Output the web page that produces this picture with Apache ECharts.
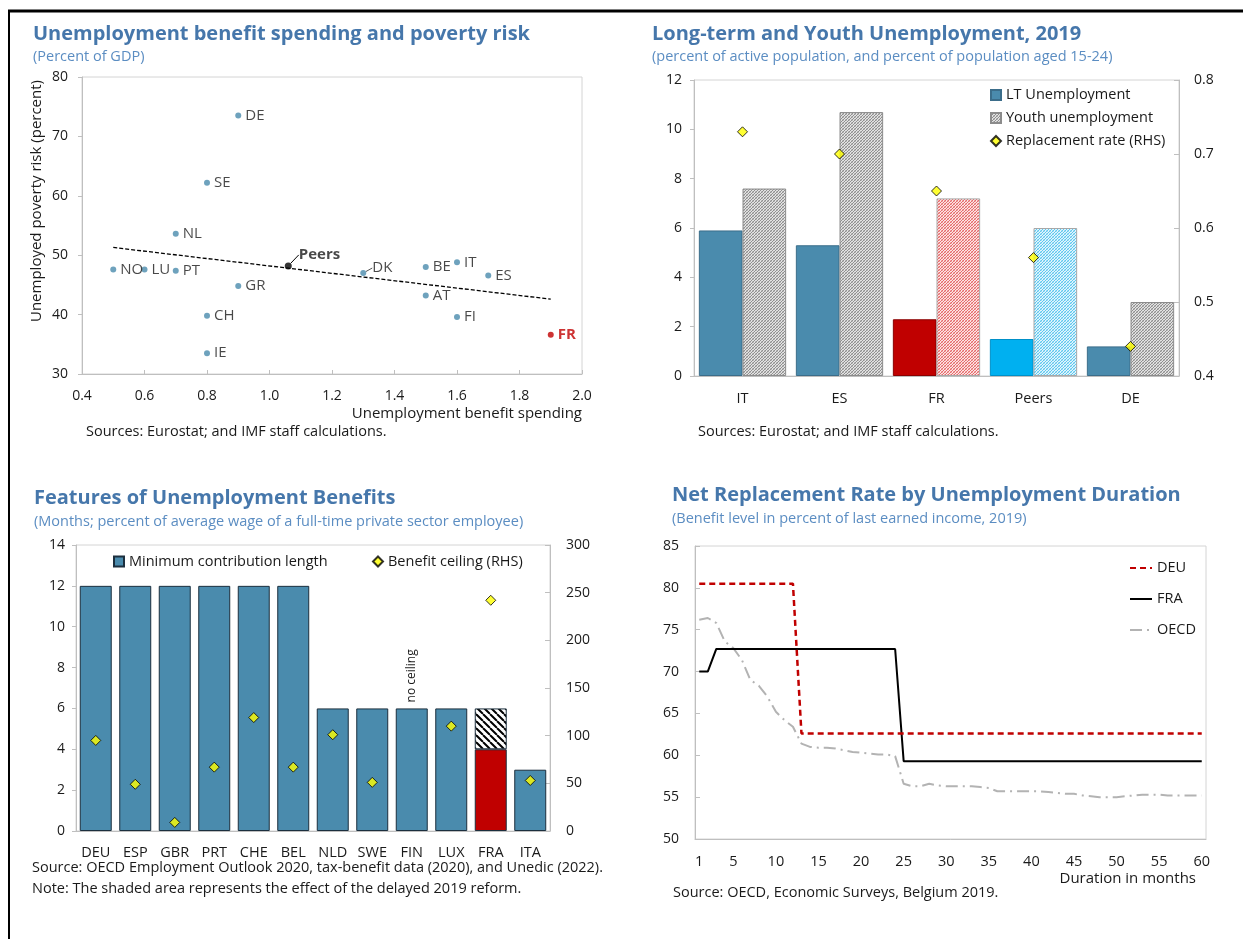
<!DOCTYPE html>
<html>
<head>
<meta charset="utf-8">
<title>Unemployment benefits</title>
<script src="https://cdn.jsdelivr.net/npm/echarts@6/dist/echarts.min.js"></script>
<style>
  html, body { margin: 0; padding: 0; background: #fff; }
  #chart { width: 1243px; height: 939px; }
</style>
</head>
<body>
<div id="chart"></div>
<script>
const FONT = "'Open Sans', 'Noto Sans', sans-serif"
const TITLE_COLOR = '#4677ab'
const SUB_COLOR = '#5b8dc2'
const INK = '#1a1a1a'
const AXIS_GRAY = '#bfbfbf'
const BLUE = '#4a8bad'
const RED = '#c00000'

// panel 1: spending vs poverty risk
const spendCountries = ['DE', 'SE', 'NL', 'NO', 'LU', 'PT', 'GR', 'CH', 'IE', 'DK', 'BE', 'IT', 'ES', 'AT', 'FI', 'FR', 'Peers']
const spendValues = [0.9, 0.8, 0.7, 0.5, 0.6, 0.7, 0.9, 0.8, 0.8, 1.3, 1.5, 1.6, 1.7, 1.5, 1.6, 1.9, 1.06]
const povertyRisk = [73.5, 62.2, 53.6, 47.6, 47.6, 47.4, 44.8, 39.8, 33.5, 47.0, 48.0, 48.8, 46.6, 43.2, 39.6, 36.6, 48.2]
const trendX = [0.5, 1.9]
const trendY = [51.3, 42.6]

// panel 2: long-term and youth unemployment
const ltCountries = ['IT', 'ES', 'FR', 'Peers', 'DE']
const ltUnemp = [5.9, 5.3, 2.3, 1.5, 1.2]
const youthUnemp = [7.6, 10.7, 7.2, 6.0, 3.0]
const replRate = [0.73, 0.70, 0.65, 0.56, 0.44]

// panel 3: features of benefits
const benefitCountries = ['DEU', 'ESP', 'GBR', 'PRT', 'CHE', 'BEL', 'NLD', 'SWE', 'FIN', 'LUX', 'FRA', 'ITA']
const minContribution = [12, 12, 12, 12, 12, 12, 6, 6, 6, 6, 4, 3]
const reformEffect = [null, null, null, null, null, null, null, null, null, null, 2, null]
const benefitCeiling = [95, 49, 9, 67, 119, 67, 101, 51, null, 110, 242, 53]

// panel 4: net replacement rate by month
const months = ['1', '2', '3', '4', '5', '6', '7', '8', '9', '10', '11', '12', '13', '14', '15', '16', '17', '18', '19', '20',
  '21', '22', '23', '24', '25', '26', '27', '28', '29', '30', '31', '32', '33', '34', '35', '36', '37', '38', '39', '40',
  '41', '42', '43', '44', '45', '46', '47', '48', '49', '50', '51', '52', '53', '54', '55', '56', '57', '58', '59', '60']
const deuRate = [
  80.5, 80.5, 80.5, 80.5, 80.5, 80.5, 80.5, 80.5, 80.5, 80.5, 80.5, 80.5,
  62.6, 62.6, 62.6, 62.6, 62.6, 62.6, 62.6, 62.6, 62.6, 62.6, 62.6, 62.6,
  62.6, 62.6, 62.6, 62.6, 62.6, 62.6, 62.6, 62.6, 62.6, 62.6, 62.6, 62.6,
  62.6, 62.6, 62.6, 62.6, 62.6, 62.6, 62.6, 62.6, 62.6, 62.6, 62.6, 62.6,
  62.6, 62.6, 62.6, 62.6, 62.6, 62.6, 62.6, 62.6, 62.6, 62.6, 62.6, 62.6,
]
const fraRate = [
  70, 70, 72.7, 72.7, 72.7, 72.7, 72.7, 72.7, 72.7, 72.7, 72.7, 72.7,
  72.7, 72.7, 72.7, 72.7, 72.7, 72.7, 72.7, 72.7, 72.7, 72.7, 72.7, 72.7,
  59.3, 59.3, 59.3, 59.3, 59.3, 59.3, 59.3, 59.3, 59.3, 59.3, 59.3, 59.3,
  59.3, 59.3, 59.3, 59.3, 59.3, 59.3, 59.3, 59.3, 59.3, 59.3, 59.3, 59.3,
  59.3, 59.3, 59.3, 59.3, 59.3, 59.3, 59.3, 59.3, 59.3, 59.3, 59.3, 59.3,
]
const oecdRate = [
  76.2, 76.4, 75.8, 73.6, 72.8, 71.4, 69.0, 68.3, 67.0, 65.2, 64.2, 63.4,
  61.4, 61.0, 60.9, 60.9, 60.8, 60.6, 60.4, 60.3, 60.2, 60.1, 60.1, 59.9,
  56.6, 56.3, 56.3, 56.6, 56.4, 56.3, 56.3, 56.3, 56.3, 56.2, 56.1, 55.7,
  55.7, 55.7, 55.7, 55.7, 55.7, 55.6, 55.5, 55.4, 55.4, 55.2, 55.1, 55.0,
  55.0, 55.0, 55.1, 55.2, 55.3, 55.3, 55.3, 55.2, 55.2, 55.2, 55.2, 55.2,
]

// little canvas tiles for the hatched fills
function hatch(bg, fg, size, width, dir, fg2) {
  const c = document.createElement('canvas')
  c.width = size
  c.height = size
  const g = c.getContext('2d')
  g.fillStyle = bg
  g.fillRect(0, 0, size, size)
  g.lineWidth = width
  const stroke = (color, back) => {
    g.strokeStyle = color
    g.beginPath()
    for (let i = -size; i <= size; i += size) {
      if (back) {
        g.moveTo(i, 0)
        g.lineTo(i + size, size)
      } else {
        g.moveTo(i, size)
        g.lineTo(i + size, 0)
      }
    }
    g.stroke()
  }
  if (fg2) stroke(fg2, dir !== 'back')
  stroke(fg, dir === 'back')
  return { image: c, repeat: 'repeat' }
}

const grayHatch = hatch('#e2e2e2', '#8e8e8e', 3, 1, 'fwd', '#bdbdbd')
const pinkHatch = hatch('#fde2e2', '#e46a6a', 3, 1, 'fwd', '#f2aaaa')
const cyanHatch = hatch('#e0f5fd', '#5ec6ee', 3, 1, 'fwd', '#a8e2f7')
const reformHatch = hatch('#ffffff', '#000000', 7, 2, 'back')

const tickLabel = { fontFamily: FONT, fontSize: 14, color: INK }

const scatterData = spendCountries.map((name, i) => {
  const item = { name, value: [spendValues[i], povertyRisk[i]] }
  if (name === 'FR') {
    item.itemStyle = { color: RED }
    item.label = { color: RED, fontWeight: 'bold' }
  }
  if (name === 'Peers') {
    item.symbolSize = 7
    item.itemStyle = { color: '#000' }
    item.label = { fontWeight: 'bold' }
    item.labelLine = { show: true, lineStyle: { color: '#000', width: 1 } }
  }
  if (name === 'DK') {
    item.labelLine = { show: true, lineStyle: { color: '#555', width: 1 } }
  }
  return item
})

const ltData = ltUnemp.map((v, i) => {
  const c = ltCountries[i]
  if (c === 'FR') return { value: v, itemStyle: { color: RED, borderColor: '#8a0000' } }
  if (c === 'Peers') return { value: v, itemStyle: { color: '#00b0f0', borderColor: '#0090c8' } }
  return v
})

const youthData = youthUnemp.map((v, i) => {
  const c = ltCountries[i]
  if (c === 'FR') return { value: v, itemStyle: { color: pinkHatch, borderColor: '#a8a8a8' } }
  if (c === 'Peers') return { value: v, itemStyle: { color: cyanHatch, borderColor: '#a8a8a8' } }
  return v
})

const minData = minContribution.map((v, i) => {
  const c = benefitCountries[i]
  if (c === 'FRA') return { value: v, itemStyle: { color: RED } }
  if (c === 'FIN') {
    return {
      value: v,
      label: {
        show: true, position: 'top', rotate: 90, align: 'left', verticalAlign: 'middle',
        distance: 6, formatter: 'no ceiling', fontFamily: FONT, fontSize: 12, color: INK,
      },
    }
  }
  return v
})

const notes = [
  [33, 34, 'Unemployment benefit spending and poverty risk', 'title'],
  [33, 57, '(Percent of GDP)', 'sub'],
  [652, 34, 'Long-term and Youth Unemployment, 2019', 'title'],
  [652, 57, '(percent of active population, and percent of population aged 15-24)', 'sub'],
  [34, 498, 'Features of Unemployment Benefits', 'title'],
  [34, 522, '(Months; percent of average wage of a full-time private sector employee)', 'sub'],
  [672, 495, 'Net Replacement Rate by Unemployment Duration', 'title'],
  [672, 519, '(Benefit level in percent of last earned income, 2019)', 'sub'],
  [86, 432, 'Sources: Eurostat; and IMF staff calculations.', 'note'],
  [698, 432, 'Sources: Eurostat; and IMF staff calculations.', 'note'],
  [32, 868, 'Source: OECD Employment Outlook 2020, tax-benefit data (2020), and Unedic (2022).', 'note'],
  [32, 889, 'Note: The shaded area represents the effect of the delayed 2019 reform.', 'note'],
  [673, 893, 'Source: OECD, Economic Surveys, Belgium 2019.', 'note'],
]

const textStyles = {
  title: { font: `bold 20px ${FONT}`, fill: TITLE_COLOR },
  sub: { font: `14.5px ${FONT}`, fill: SUB_COLOR },
  note: { font: `14.5px ${FONT}`, fill: INK },
}

const graphic = notes.map(([x, y, text, kind]) => ({
  type: 'text', x, y, silent: true,
  style: { text, ...textStyles[kind], align: 'left', verticalAlign: 'middle', textAlign: 'left', textVerticalAlign: 'middle' },
}))

graphic.push(
  {
    type: 'text', x: 37, y: 201, rotation: Math.PI / 2, silent: true,
    style: { text: 'Unemployed poverty risk (percent)', font: `15px ${FONT}`, fill: INK, align: 'center', verticalAlign: 'middle', textAlign: 'center', textVerticalAlign: 'middle' },
  },
  {
    type: 'text', x: 582, y: 414, silent: true,
    style: { text: 'Unemployment benefit spending', font: `15px ${FONT}`, fill: INK, align: 'right', verticalAlign: 'middle', textAlign: 'right', textVerticalAlign: 'middle' },
  },
  {
    type: 'text', x: 1196, y: 879, silent: true,
    style: { text: 'Duration in months', font: `15px ${FONT}`, fill: INK, align: 'right', verticalAlign: 'middle', textAlign: 'right', textVerticalAlign: 'middle' },
  },
  { type: 'line', silent: true, shape: { x1: 8, y1: 11, x2: 1243, y2: 11 }, style: { stroke: '#000', lineWidth: 3 } },
  { type: 'line', silent: true, shape: { x1: 9, y1: 10, x2: 9, y2: 939 }, style: { stroke: '#000', lineWidth: 2 } },
)

const frame = { show: true, borderColor: '#d4d4d4', borderWidth: 1, backgroundColor: 'transparent' }
const line = { show: true, lineStyle: { color: AXIS_GRAY } }
const noSplit = { show: false }

const chart = echarts.init(document.getElementById('chart'))

chart.setOption({
  animation: false,
  textStyle: { fontFamily: FONT },
  graphic,
  grid: [
    { left: 82, top: 77, width: 500, height: 297, ...frame },
    { left: 694, top: 80, width: 485, height: 296, ...frame },
    { left: 76, top: 545, width: 474, height: 286, ...frame },
    { left: 695, top: 546, width: 511, height: 293, ...frame },
  ],
  xAxis: [
    {
      gridIndex: 0, type: 'value', min: 0.4, max: 2.0, interval: 0.2,
      axisLine: line, axisTick: { inside: true, length: 4, lineStyle: { color: AXIS_GRAY } },
      axisLabel: { ...tickLabel, margin: 15, formatter: v => v.toFixed(1) }, splitLine: noSplit,
    },
    {
      gridIndex: 1, type: 'category', data: ltCountries,
      axisLine: line, axisTick: { show: false },
      axisLabel: { ...tickLabel, fontSize: 14.5, margin: 15 },
    },
    {
      gridIndex: 2, type: 'category', data: benefitCountries,
      axisLine: line, axisTick: { inside: true, length: 4, lineStyle: { color: AXIS_GRAY } },
      axisLabel: { ...tickLabel, fontSize: 14.5, margin: 14, interval: 0 },
    },
    {
      gridIndex: 3, type: 'category', data: months, boundaryGap: true,
      axisLine: line, axisTick: { inside: true, length: 5, interval: 0, lineStyle: { color: AXIS_GRAY } },
      axisLabel: { ...tickLabel, fontSize: 14.5, margin: 15, interval: (i, v) => v === '1' || Number(v) % 5 === 0 },
    },
  ],
  yAxis: [
    {
      gridIndex: 0, type: 'value', min: 30, max: 80, interval: 10,
      axisLine: line, axisTick: { show: true, length: 4, lineStyle: { color: AXIS_GRAY } },
      axisLabel: { ...tickLabel, margin: 14 }, splitLine: noSplit,
    },
    {
      gridIndex: 1, type: 'value', min: 0, max: 12, interval: 2,
      axisLine: line, axisTick: { show: true, length: 4, lineStyle: { color: AXIS_GRAY } },
      axisLabel: { ...tickLabel, margin: 12 }, splitLine: noSplit,
    },
    {
      gridIndex: 1, type: 'value', position: 'right', min: 0.4, max: 0.8, interval: 0.1,
      axisLine: line, axisTick: { show: true, inside: true, length: 5, lineStyle: { color: AXIS_GRAY } },
      axisLabel: { ...tickLabel, margin: 15, formatter: v => v.toFixed(1) }, splitLine: noSplit,
    },
    {
      gridIndex: 2, type: 'value', min: 0, max: 14, interval: 2,
      axisLine: line, axisTick: { show: true, length: 4, lineStyle: { color: AXIS_GRAY } },
      axisLabel: { ...tickLabel, margin: 11 }, splitLine: noSplit,
    },
    {
      gridIndex: 2, type: 'value', position: 'right', min: 0, max: 300, interval: 50,
      axisLine: line, axisTick: { show: true, inside: true, length: 5, lineStyle: { color: AXIS_GRAY } },
      axisLabel: { ...tickLabel, margin: 16 }, splitLine: noSplit,
    },
    {
      gridIndex: 3, type: 'value', min: 50, max: 85, interval: 5,
      axisLine: line, axisTick: { show: true, inside: true, length: 5, lineStyle: { color: AXIS_GRAY } },
      axisLabel: { ...tickLabel, margin: 16 }, splitLine: noSplit,
    },
  ],
  legend: [
    {
      orient: 'vertical', left: 985, top: 82, itemWidth: 10, itemHeight: 10, itemGap: 7,
      selectedMode: false, textStyle: { fontFamily: FONT, fontSize: 14.5, color: INK, lineHeight: 16 },
      data: [
        { name: 'LT Unemployment', icon: 'rect' },
        { name: 'Youth unemployment', icon: 'rect' },
        { name: 'Replacement rate (RHS)', icon: 'diamond' },
      ],
    },
    {
      left: 108, top: 549, itemWidth: 10, itemHeight: 10, selectedMode: false,
      textStyle: { fontFamily: FONT, fontSize: 14.5, color: INK },
      data: [{ name: 'Minimum contribution length', icon: 'rect' }],
    },
    {
      left: 367, top: 549, itemWidth: 10, itemHeight: 10, selectedMode: false,
      textStyle: { fontFamily: FONT, fontSize: 14.5, color: INK },
      data: [{ name: 'Benefit ceiling (RHS)', icon: 'diamond' }],
    },
    {
      orient: 'vertical', left: 1124, top: 555, itemWidth: 22, itemHeight: 12, itemGap: 15,
      selectedMode: false, textStyle: { fontFamily: FONT, fontSize: 14.5, color: INK, lineHeight: 16 },
      itemStyle: { opacity: 0 },
      data: ['DEU', 'FRA', 'OECD'],
    },
  ],
  series: [
    {
      name: 'Trend', type: 'line', xAxisIndex: 0, yAxisIndex: 0, silent: true, symbol: 'none',
      data: trendX.map((x, i) => [x, trendY[i]]),
      lineStyle: { color: '#000', width: 1.3, type: [4, 2] }, z: 1,
    },
    {
      name: 'Countries', type: 'scatter', xAxisIndex: 0, yAxisIndex: 0, symbolSize: 6,
      data: scatterData,
      itemStyle: { color: BLUE },
      label: { show: true, position: 'right', distance: 4, formatter: '{b}', fontFamily: FONT, fontSize: 15, color: INK },
      labelLayout: p => {
        const n = spendCountries[p.dataIndex]
        if (n === 'Peers') return { dx: 3, dy: -11 }
        if (n === 'DK') return { dx: 2, dy: -5 }
        return {}
      },
      z: 3,
    },
    {
      name: 'LT Unemployment', type: 'bar', xAxisIndex: 1, yAxisIndex: 1,
      data: ltData, barGap: '0%', barCategoryGap: '10%',
      itemStyle: { color: BLUE, borderColor: '#3b6d8a', borderWidth: 1 },
    },
    {
      name: 'Youth unemployment', type: 'bar', xAxisIndex: 1, yAxisIndex: 1,
      data: youthData, barGap: '0%', barCategoryGap: '10%',
      itemStyle: { color: grayHatch, borderColor: '#8c8c8c', borderWidth: 1 },
    },
    {
      name: 'Replacement rate (RHS)', type: 'scatter', xAxisIndex: 1, yAxisIndex: 2,
      data: replRate, symbol: 'diamond', symbolSize: 10,
      itemStyle: { color: '#ffff00', borderColor: '#000', borderWidth: 1 }, z: 5,
    },
    {
      name: 'Minimum contribution length', type: 'bar', xAxisIndex: 2, yAxisIndex: 3, stack: 'months',
      data: minData, barCategoryGap: '19%',
      itemStyle: { color: BLUE, borderColor: '#1c2f3e', borderWidth: 1 },
    },
    {
      name: 'Delayed reform', type: 'bar', xAxisIndex: 2, yAxisIndex: 3, stack: 'months',
      data: reformEffect.map(v => (v == null ? '-' : v)), barCategoryGap: '19%',
      itemStyle: { color: reformHatch, borderColor: '#1c2f3e', borderWidth: 1 },
    },
    {
      name: 'Benefit ceiling (RHS)', type: 'scatter', xAxisIndex: 2, yAxisIndex: 4,
      data: benefitCeiling.map(v => (v == null ? '-' : v)), symbol: 'diamond', symbolSize: 10,
      itemStyle: { color: '#ffff00', borderColor: '#000', borderWidth: 1 }, z: 5,
    },
    {
      name: 'OECD', type: 'line', xAxisIndex: 3, yAxisIndex: 5, data: oecdRate, symbol: 'none',
      itemStyle: { color: '#b3b3b3' },
      lineStyle: { color: '#b3b3b3', width: 2, type: [12, 5, 2, 5] },
    },
    {
      name: 'FRA', type: 'line', xAxisIndex: 3, yAxisIndex: 5, data: fraRate, symbol: 'none',
      itemStyle: { color: '#000' },
      lineStyle: { color: '#000', width: 2 },
    },
    {
      name: 'DEU', type: 'line', xAxisIndex: 3, yAxisIndex: 5, data: deuRate, symbol: 'none',
      itemStyle: { color: RED },
      lineStyle: { color: RED, width: 2.5, type: [6, 4] },
    },
  ],
})
</script>
</body>
</html>
